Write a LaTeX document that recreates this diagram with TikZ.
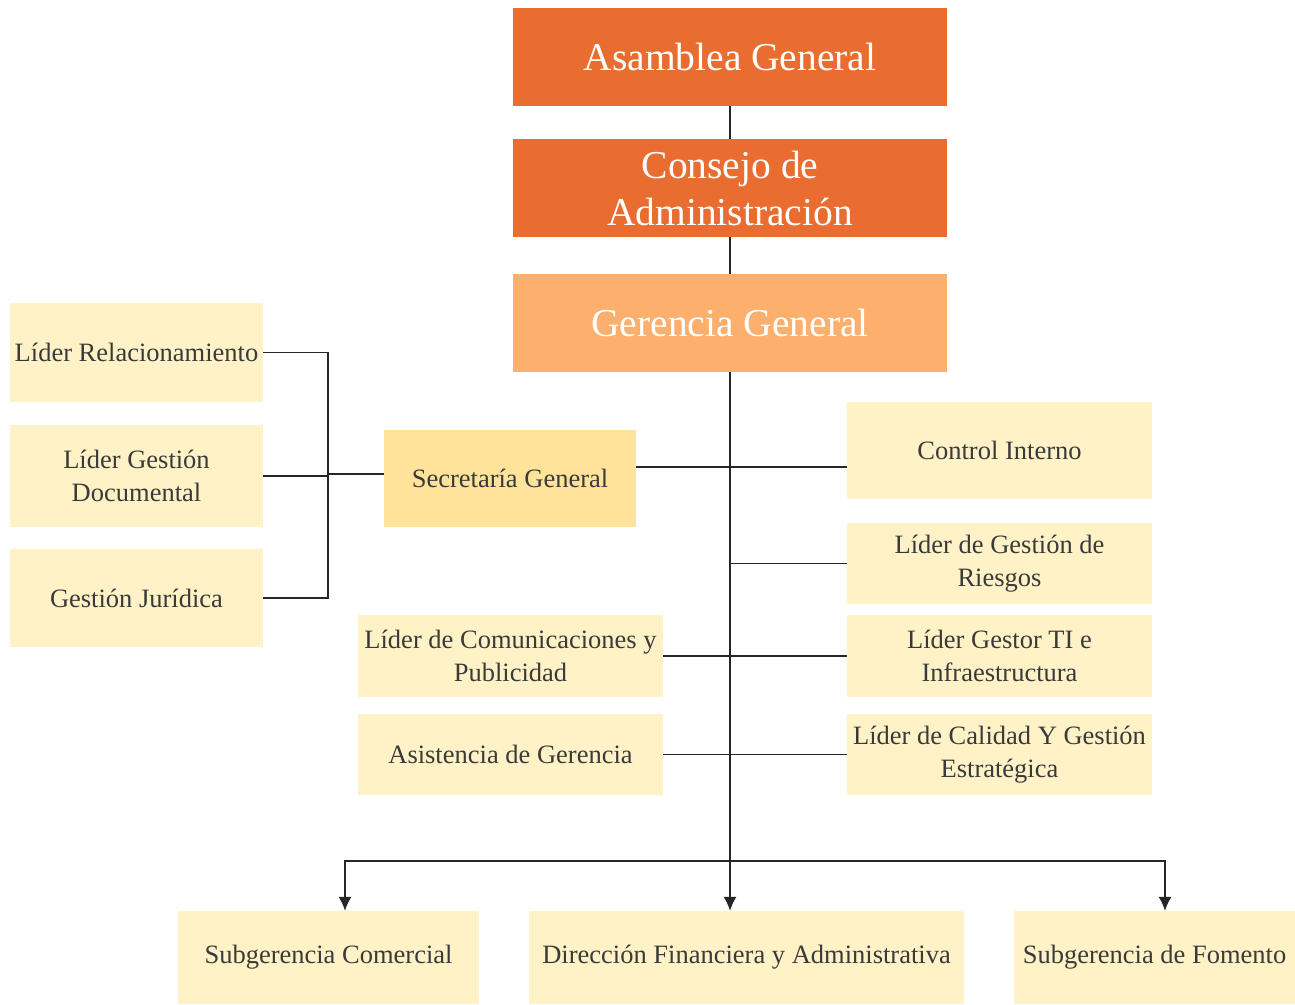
\documentclass[tikz,border=0pt]{standalone}
\usepackage{fontspec}
\setmainfont{Liberation Serif}
\usepackage{tikz}
\usetikzlibrary{positioning}
\usetikzlibrary{arrows.meta}
\definecolor{darkorange}{HTML}{E96D31}
\definecolor{lightorange}{HTML}{FDB06E}
\definecolor{cream}{HTML}{FFF2C6}
\definecolor{sand}{HTML}{FFE39A}
\definecolor{inkgray}{HTML}{3A3A3A}
\tikzset {
  x=1pt, y=-1pt,
  % top level boxes
  board/.style = {rectangle, fill=darkorange, text=white, align=center, inner sep=2pt,
    minimum width=434pt, minimum height=98pt, font=\fontsize{39.5}{47}\selectfont},
  manager/.style = {board, fill=lightorange},
  % boxes below the general manager
  staff/.style = {rectangle, fill=cream, text=inkgray, align=center, inner sep=2pt,
    font=\fontsize{26.5}{33}\selectfont},
  secretary/.style = {staff, fill=sand},
  % connectors
  conn/.style = {draw=black!85, line width=1.3pt},
  down/.style = {conn, -{Latex[length=14pt, width=13pt]}},
}

\begin{document}
\begin{tikzpicture}
        \useasboundingbox (0,0) rectangle (1295,1004);

        \node[board] (asamblea) at (730, 57) {Asamblea General};
        \node[board] (consejo) at (730, 188) {Consejo de\\Administración};
        \node[manager] (gerencia) at (730, 323) {Gerencia General};

        \node[staff, minimum width=253pt, minimum height=99pt] (relac) at (136.5, 352.5) {Líder Relacionamiento};
        \node[staff, minimum width=253pt, minimum height=102pt] (docum) at (136.5, 476) {Líder Gestión\\Documental};
        \node[staff, minimum width=253pt, minimum height=98pt] (juridica) at (136.5, 598) {Gestión Jurídica};
        \node[secretary, minimum width=252pt, minimum height=97pt] (secretaria) at (510, 478.5) {Secretaría General};

        \node[staff, minimum width=305pt, minimum height=97pt] (control) at (999.5, 450.5) {Control Interno};
        \node[staff, minimum width=305pt, minimum height=81pt] (riesgos) at (999.5, 563.5) {Líder de Gestión de\\Riesgos};
        \node[staff, minimum width=305pt, minimum height=82pt] (gestorti) at (999.5, 656) {Líder Gestor TI e\\Infraestructura};
        \node[staff, minimum width=305pt, minimum height=81pt] (calidad) at (999.5, 754.5) {Líder de Calidad Y Gestión\\Estratégica};

        \node[staff, minimum width=305pt, minimum height=82pt] (comunic) at (510.5, 656) {Líder de Comunicaciones y\\Publicidad};
        \node[staff, minimum width=305pt, minimum height=81pt] (asistencia) at (510.5, 754.5) {Asistencia de Gerencia};

        \node[staff, minimum width=301pt, minimum height=93pt] (comercial) at (328.5, 957.5) {Subgerencia Comercial};
        \node[staff, minimum width=435pt, minimum height=93pt] (financiera) at (746.5, 957.5) {Dirección Financiera y Administrativa};
        \node[staff, minimum width=281pt, minimum height=93pt] (fomento) at (1154.5, 957.5) {Subgerencia de Fomento};

        \coordinate (bus) at (328, 474);
        \coordinate (secline) at (730, 467);
        \coordinate (split) at (730, 861);

        \draw [conn] (asamblea) -- (consejo);
        \draw [conn] (consejo) -- (gerencia);
        \draw [down] (gerencia.south) -- (financiera.north -| gerencia.south);

        \draw [conn] (relac.east) -| (bus) |- (juridica.east);
        \draw [conn] (docum.east) -- (bus |- docum.east);
        \draw [conn] (bus) -- (secretaria.west |- bus);

        \draw [conn] (secretaria.east |- secline) -- (control.west |- secline);
        \draw [conn] (gerencia.south |- riesgos.west) -- (riesgos.west);
        \draw [conn] (comunic.east) -- (gestorti.west);
        \draw [conn] (asistencia.east) -- (calidad.west);

        \draw [down] (split) -| ([xshift=16.5pt]comercial.north);
        \draw [down] (split) -| ([xshift=10.5pt]fomento.north);

      \end{tikzpicture}
\end{document}
